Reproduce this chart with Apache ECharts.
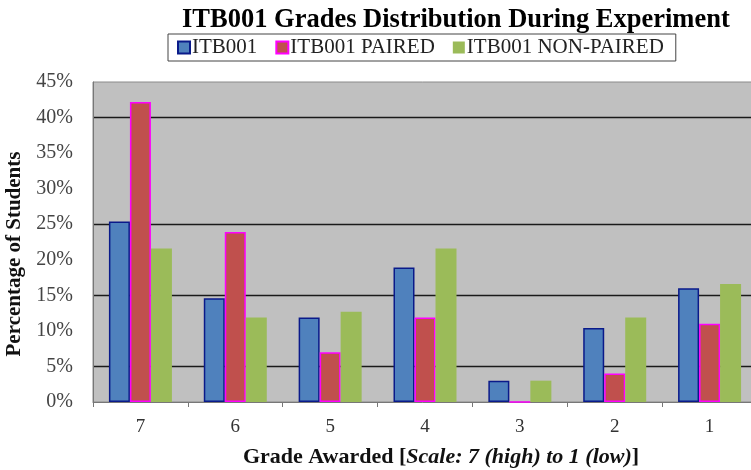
<!DOCTYPE html>
<html>
<head>
<meta charset="utf-8">
<script src="https://cdn.jsdelivr.net/npm/echarts@6/dist/echarts.min.js"></script>
<style>
    html, body { margin: 0; padding: 0; background: #fff; }
    #chart { width: 751px; height: 470px; }
</style>
</head>
<body>
<div id="chart"></div>
<script>
// grades, high to low
const grades = ['7', '6', '5', '4', '3', '2', '1'];
// percentage of students per grade
const itb001 = [25.4, 14.6, 11.9, 18.9, 3.0, 10.4, 16.0];
const itb001Paired = [42.2, 23.9, 7.0, 11.9, 0, 4.0, 11.0];
const itb001NonPaired = [21.6, 11.9, 12.7, 21.6, 3.0, 11.9, 16.6];
const seriesNames = ['ITB001', 'ITB001 PAIRED', 'ITB001 NON-PAIRED'];

// only some gridlines show in the picture (5, 15, 25, 40)
const gridColors = ['rgba(0,0,0,0)', '#1a1a1a', 'rgba(0,0,0,0)', '#1a1a1a', 'rgba(0,0,0,0)',
    '#1a1a1a', 'rgba(0,0,0,0)', 'rgba(0,0,0,0)', '#1a1a1a', 'rgba(0,0,0,0)'];

const serif = 'Liberation Serif';

let chart = echarts.init(document.getElementById('chart'), null, { renderer: 'canvas' });

let option = {
    backgroundColor: '#fff',
    animation: false,
    title: {
        text: 'ITB001 Grades Distribution During Experiment',
        left: 177,
        top: 2,
        textStyle: {
            fontFamily: serif,
            fontWeight: 'bold',
            fontSize: 26.5,
            color: '#000'
        }
    },
    legend: {
        left: 168,
        top: 34,
        itemWidth: 12,
        itemHeight: 12,
        itemGap: 18,
        padding: [3, 12, 3, 9],
        borderColor: '#444',
        borderWidth: 1,
        icon: 'rect',
        textStyle: {
            fontFamily: serif,
            fontSize: 21,
            color: '#222',
            padding: [0, 0, 0, -3]
        },
        data: seriesNames
    },
    grid: {
        left: 93,
        top: 82,
        right: -6,
        bottom: 68,
        outerBoundsMode: 'none',
        containLabel: false,
        show: true,
        backgroundColor: '#c0c0c0',
        borderColor: '#8a8a8a',
        borderWidth: 1
    },
    xAxis: {
        type: 'category',
        data: grades,
        axisLine: { lineStyle: { color: '#777', width: 1 } },
        axisTick: { show: true, length: 5, lineStyle: { color: '#777' } },
        axisLabel: {
            fontFamily: serif,
            fontSize: 19,
            color: '#333',
            margin: 16
        },
        name: '{b|Grade Awarded [}{i|Scale: 7 (high) to 1 (low)}{b|]}',
        nameLocation: 'middle',
        nameGap: 44,
        nameTextStyle: {
            padding: [0, 0, 0, 32],
            rich: {
                b: { fontFamily: serif, fontWeight: 'bold', fontSize: 22, color: '#111' },
                i: { fontFamily: serif, fontWeight: 'bold', fontStyle: 'italic', fontSize: 22, color: '#111' }
            }
        }
    },
    yAxis: {
        type: 'value',
        min: 0,
        max: 45,
        interval: 5,
        axisLine: { show: true, lineStyle: { color: '#777' } },
        axisTick: { show: false },
        splitLine: {
            show: true,
            lineStyle: { color: gridColors, width: 1.3 }
        },
        axisLabel: {
            formatter: '{value}%',
            fontFamily: serif,
            fontSize: 20,
            color: '#444',
            margin: 20
        },
        name: 'Percentage of Students',
        nameLocation: 'middle',
        nameGap: 62,
        nameTextStyle: {
            fontFamily: serif,
            fontWeight: 'bold',
            fontSize: 21,
            color: '#111',
            padding: [0, 24, 0, 0]
        }
    },
    series: [
        {
            name: seriesNames[0],
            type: 'bar',
            data: itb001,
            barWidth: 21,
            barGap: '0%',
            itemStyle: { color: '#4f81bd', borderColor: '#0a1a8a', borderWidth: 1.5 }
        },
        {
            name: seriesNames[1],
            type: 'bar',
            data: itb001Paired,
            barWidth: 21,
            barGap: '0%',
            itemStyle: { color: '#c0504d', borderColor: '#ff00ff', borderWidth: 1.5 }
        },
        {
            name: seriesNames[2],
            type: 'bar',
            data: itb001NonPaired,
            barWidth: 21,
            barGap: '0%',
            itemStyle: { color: '#9bbb59' }
        }
    ]
};

chart.setOption(option);
</script>
</body>
</html>
